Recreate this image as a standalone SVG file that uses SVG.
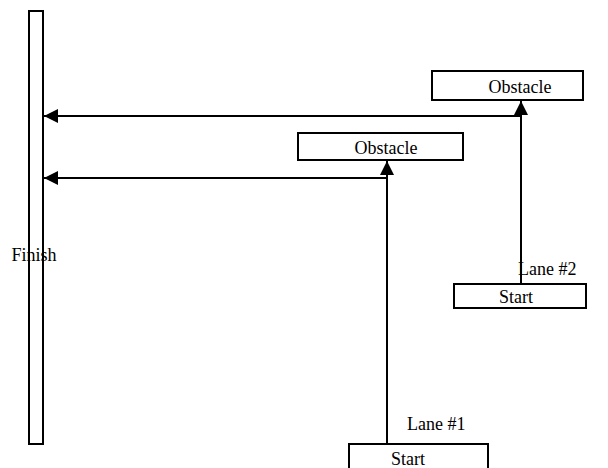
<svg xmlns="http://www.w3.org/2000/svg" width="608" height="468" viewBox="0 0 608 468">
<defs>
<style>
.box{fill:#fff;stroke:#000;stroke-width:2}
.t{font-family:"Liberation Serif","Times New Roman",serif;font-size:18px;fill:#000}
.ln{stroke:#000;stroke-width:2;fill:none}
</style>
<marker id="ah" viewBox="0 0 14 14" refX="14" refY="7" markerWidth="14" markerHeight="14" markerUnits="userSpaceOnUse" orient="auto">
<path d="M0,0 L14,7 L0,14 Z" fill="#000"/>
</marker>
</defs>
<rect width="608" height="468" fill="#fff"/>
<g id="finish">
<rect class="box" x="29" y="11" width="14" height="433"/>
<text class="t" x="34" y="261" text-anchor="middle">Finish</text>
</g>
<g id="obstacle2">
<rect class="box" x="432" y="71" width="151" height="29"/>
<text class="t" x="520" y="93" text-anchor="middle">Obstacle</text>
</g>
<g id="obstacle1">
<rect class="box" x="298" y="133" width="165" height="27"/>
<text class="t" x="386" y="154" text-anchor="middle">Obstacle</text>
</g>
<g id="start2">
<rect class="box" x="454" y="284" width="132" height="24"/>
<text class="t" x="516" y="303" text-anchor="middle">Start</text>
</g>
<g id="start1">
<rect class="box" x="349" y="444" width="139" height="26"/>
<text class="t" x="408" y="465" text-anchor="middle">Start</text>
</g>
<g id="labels">
<text class="t" x="518" y="275">Lane #2</text>
<text class="t" x="407" y="430">Lane #1</text>
</g>
<g id="connectors">
<line class="ln" x1="521" y1="284" x2="521" y2="101" marker-end="url(#ah)"/>
<line class="ln" x1="387" y1="444" x2="387" y2="161" marker-end="url(#ah)"/>
<line class="ln" x1="521" y1="116" x2="44" y2="116" marker-end="url(#ah)"/>
<line class="ln" x1="387" y1="178" x2="44" y2="178" marker-end="url(#ah)"/>
</g>
</svg>
